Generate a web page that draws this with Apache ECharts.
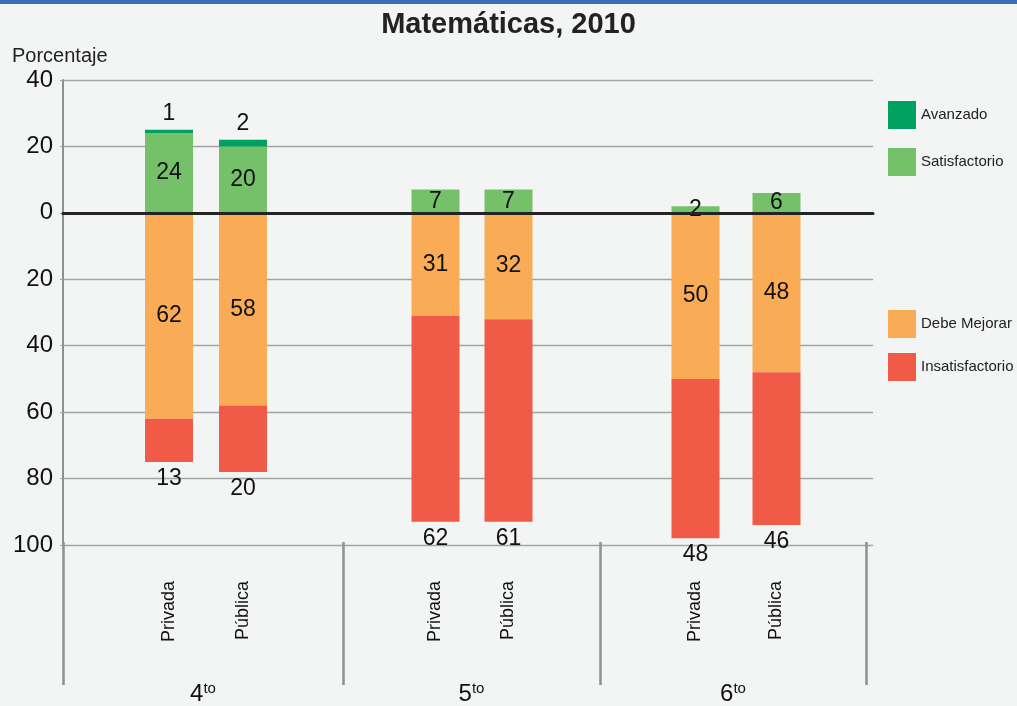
<!DOCTYPE html>
<html>
<head>
<meta charset="utf-8">
<title>Matemáticas, 2010</title>
<script src="https://cdn.jsdelivr.net/npm/echarts@6.0.0/dist/echarts.min.js"></script>
<style>
  html, body { margin: 0; padding: 0; background: #f3f4f4; }
  #chart { width: 1017px; height: 706px; }
</style>
</head>
<body>
<div id="chart"></div>
<script>
// Grades and school types
const grados = ['4', '5', '6'];
const gradoSufijo = 'to';
const escuelas = ['Privada', 'Pública'];

// Achievement levels (percent of students), one pair [Privada, Pública] per grade
const avanzado        = [[1, 2],   [0, 0],   [0, 0]];
const satisfactorio   = [[24, 20], [7, 7],   [2, 6]];
const debeMejorar     = [[62, 58], [31, 32], [50, 48]];
const insatisfactorio = [[13, 20], [62, 61], [48, 46]];

// Vertical scale: levels above the line go up, the rest go down
const yMin = -100, yMax = 40, yStep = 20;

const colores = {
  'Avanzado': '#00a160',
  'Satisfactorio': '#74c16a',
  'Debe Mejorar': '#f9ab56',
  'Insatisfactorio': '#f15a46'
};

const FONT = '"Liberation Sans", Arial, sans-serif';
const W = 1017;
const plotTop = 80, plotBottom = 161;

// Horizontal layout: full plot, grade sections, and bar pairs inside each section
const plotArea = [63, 873];
const secciones = [[63, 343], [343, 600], [600, 866]];
const pares = [[132, 280], [399, 545], [655, 817]];

const gris = '#8f9095';

const grid = [{ left: plotArea[0], right: W - plotArea[1], top: plotTop, bottom: plotBottom }];
secciones.forEach(s => grid.push({ left: s[0], right: W - s[1], top: plotTop, bottom: plotBottom }));
pares.forEach(p => grid.push({ left: p[0], right: W - p[1], top: plotTop, bottom: plotBottom }));

const hiddenY = gi => ({
  type: 'value', gridIndex: gi, min: yMin, max: yMax, interval: yStep,
  axisLine: { show: false }, axisTick: { show: false },
  axisLabel: { show: false }, splitLine: { show: false }
});

const yAxis = [{
  type: 'value', gridIndex: 0, min: yMin, max: yMax, interval: yStep,
  axisLine: { show: true, lineStyle: { color: gris, width: 2 } },
  axisTick: { show: true, length: 3, lineStyle: { color: '#a3a4a8' } },
  axisLabel: {
    margin: 10, fontSize: 24, color: '#111', fontFamily: FONT,
    formatter: v => String(Math.abs(v))
  },
  splitLine: { show: true, lineStyle: { color: '#a3a4a8', width: 1.3 } }
}];
for (let i = 1; i <= 6; i++) yAxis.push(hiddenY(i));

const xAxis = [{
  // baseline at zero, drawn over the bars
  type: 'category', gridIndex: 0, data: [''], z: 10,
  axisLine: { show: true, onZero: true, lineStyle: { color: '#232323', width: 3 } },
  axisTick: { show: false }, axisLabel: { show: false }, splitLine: { show: false }
}];
grados.forEach((g, i) => xAxis.push({
  type: 'category', gridIndex: 1 + i, data: [g], position: 'bottom',
  axisLine: { show: false, onZero: false },
  axisTick: { show: true, interval: 0, length: 143, lineStyle: { color: gris, width: 2.5 } },
  axisLabel: {
    margin: 139, interval: 0,
    formatter: v => '{n|' + v + '}{s|' + gradoSufijo + '}',
    rich: {
      n: { fontSize: 24, lineHeight: 26, color: '#111', fontFamily: FONT },
      s: { fontSize: 15, lineHeight: 12, verticalAlign: 'top', color: '#111', fontFamily: FONT }
    }
  },
  splitLine: { show: false }
}));
grados.forEach((g, i) => xAxis.push({
  type: 'category', gridIndex: 4 + i, data: escuelas, position: 'bottom',
  axisLine: { show: false, onZero: false }, axisTick: { show: false },
  axisLabel: { rotate: 90, margin: 36, interval: 0, fontSize: 18, color: '#111', fontFamily: FONT },
  splitLine: { show: false }
}));

const etiqueta = pos => ({
  show: true, position: pos, distance: 5,
  fontSize: 23, color: '#111', fontFamily: FONT,
  formatter: p => (p.value === 0 ? '' : String(Math.abs(p.value)))
});

const series = [];
grados.forEach((g, i) => {
  const base = {
    type: 'bar', xAxisIndex: 4 + i, yAxisIndex: 4 + i,
    stack: 'grado' + g, barWidth: 48, emphasis: { disabled: true }
  };
  series.push(Object.assign({}, base, {
    name: 'Satisfactorio', data: satisfactorio[i],
    itemStyle: { color: colores['Satisfactorio'] }, label: etiqueta('inside')
  }));
  series.push(Object.assign({}, base, {
    name: 'Avanzado', data: avanzado[i],
    itemStyle: { color: colores['Avanzado'] }, label: etiqueta('top')
  }));
  series.push(Object.assign({}, base, {
    name: 'Debe Mejorar', data: debeMejorar[i].map(v => -v),
    itemStyle: { color: colores['Debe Mejorar'] }, label: etiqueta('inside')
  }));
  series.push(Object.assign({}, base, {
    name: 'Insatisfactorio', data: insatisfactorio[i].map(v => -v),
    itemStyle: { color: colores['Insatisfactorio'] }, label: etiqueta('bottom')
  }));
});

const leyenda = (items, top, gap) => ({
  data: items, orient: 'vertical', left: 888, top: top, padding: 0,
  itemWidth: 28, itemHeight: 28, itemGap: gap, icon: 'rect',
  textStyle: { fontSize: 15, color: '#222', fontFamily: FONT }
});

const option = {
  backgroundColor: '#f3f4f4',
  animation: false,
  textStyle: { fontFamily: FONT },
  title: [
    { text: 'Matemáticas, 2010', left: 'center', top: 5,
      textStyle: { fontSize: 29, fontWeight: 'bold', color: '#222', fontFamily: FONT } },
    { text: 'Porcentaje', left: 7, top: 41,
      textStyle: { fontSize: 20, fontWeight: 'normal', color: '#222', fontFamily: FONT } }
  ],
  graphic: [{
    type: 'rect', left: 0, top: 0, z: 100,
    shape: { width: W, height: 4 }, style: { fill: '#3a6fb7' }
  }],
  legend: [
    leyenda(['Avanzado', 'Satisfactorio'], 101, 19),
    leyenda(['Debe Mejorar', 'Insatisfactorio'], 310, 15)
  ],
  grid: grid,
  xAxis: xAxis,
  yAxis: yAxis,
  series: series
};

const chart = echarts.init(document.getElementById('chart'), null, { renderer: 'canvas' });
chart.setOption(option);
</script>
</body>
</html>
